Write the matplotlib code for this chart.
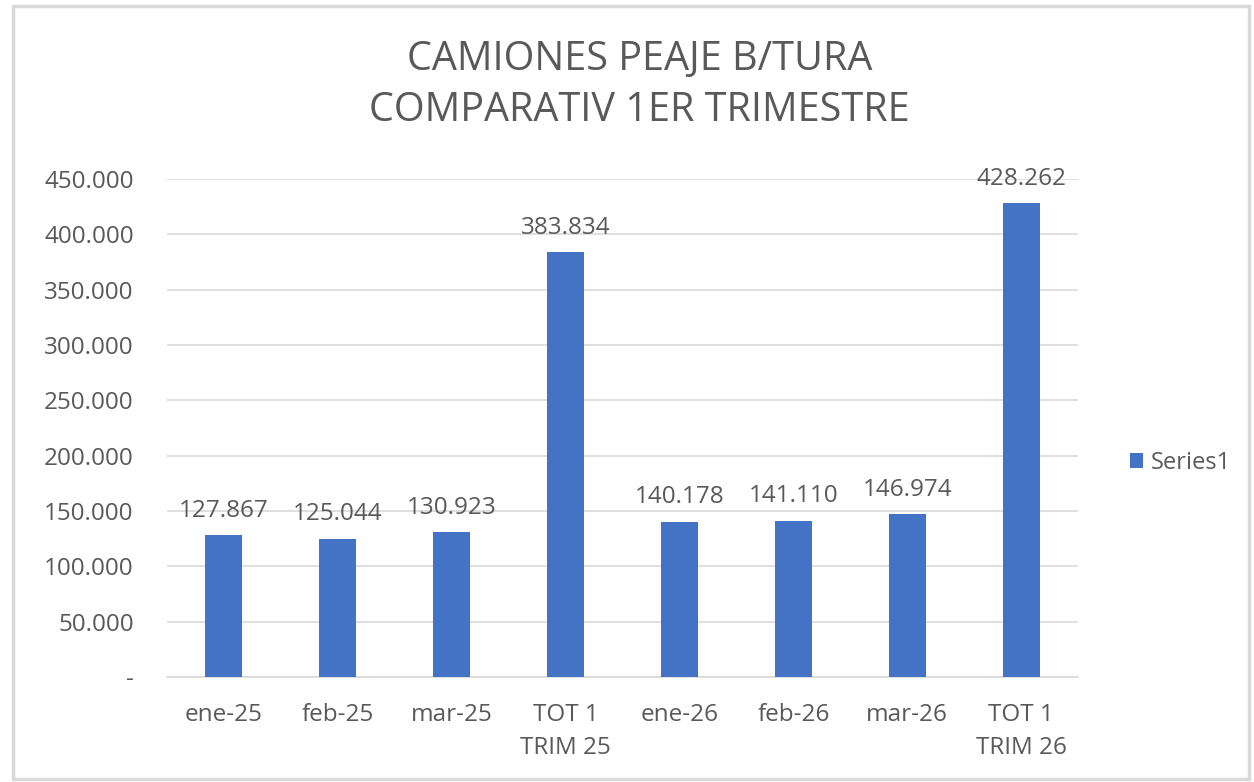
import matplotlib.pyplot as plt
from matplotlib.patches import Rectangle

categorias = ["ene-25", "feb-25", "mar-25", "TOT 1\nTRIM 25",
              "ene-26", "feb-26", "mar-26", "TOT 1\nTRIM 26"]
valores = [127867, 125044, 130923, 383834, 140178, 141110, 146974, 428262]
ticks_y = [0, 50000, 100000, 150000, 200000, 250000, 300000, 350000, 400000, 450000]

azul = "#4472C4"
gris = "#595959"

def fmt(v):
    if v == 0:
        return "-"
    return "{:,}".format(v).replace(",", ".")

plt.rcParams['font.family'] = ['Open Sans', 'DejaVu Sans']

fig = plt.figure(figsize=(12.54, 7.82), dpi=100)
fig.patches.append(Rectangle((0.010, 0.004), 0.986, 0.988, transform=fig.transFigure,
                             fill=False, edgecolor="#D9D9D9", linewidth=2.5))

ax = fig.add_axes([0.1332, 0.1343, 0.7265, 0.6368])
x = list(range(len(categorias)))
bars = ax.bar(x, valores, width=0.325, color=azul, label="Series1", zorder=3)

ax.set_xlim(-0.5, len(categorias) - 0.5)
ax.set_ylim(0, 450000)
ax.set_yticks(ticks_y)
ax.set_yticklabels([fmt(t) for t in ticks_y])
ax.set_xticks(x)
ax.set_xticklabels(categorias)
ax.grid(axis="y", color="#D9D9D9", linewidth=1.2, zorder=0)
for s in ["top", "right", "left"]:
    ax.spines[s].set_visible(False)
ax.spines["bottom"].set_color("#D9D9D9")
ax.spines["bottom"].set_linewidth(1.2)
ax.tick_params(axis="both", length=0, labelsize=17.5, labelcolor=gris)
ax.tick_params(axis="x", pad=19)
ax.tick_params(axis="y", pad=24)
for lbl in ax.get_xticklabels():
    lbl.set_linespacing(1.5)

for b, v in zip(bars, valores):
    ax.annotate(fmt(v), (b.get_x() + b.get_width() / 2, v), xytext=(0, 9),
                textcoords="offset points", ha="center", va="bottom",
                fontsize=17.5, color=gris)

fig.text(0.51, 0.891, "CAMIONES PEAJE B/TURA\nCOMPARATIV 1ER TRIMESTRE",
         ha="center", va="center", fontsize=28.5, color=gris, linespacing=1.35)

fig.legend(handles=[bars], labels=["Series1"], loc="center left",
           bbox_to_anchor=(0.884, 0.408), frameon=False, fontsize=17,
           labelcolor=gris, handlelength=0.55, handleheight=0.55, handletextpad=0.35)

fig.savefig("out.png", dpi=100)
